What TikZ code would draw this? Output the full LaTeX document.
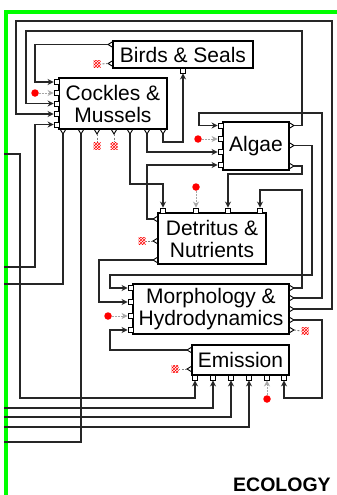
\documentclass[tikz,border=0pt]{standalone}
\usepackage{fontspec}
\setmainfont{Liberation Sans}
\usetikzlibrary{arrows.meta,patterns}
\definecolor{gbord}{RGB}{0,255,0}
\begin{document}
\begin{tikzpicture}[x=1pt,y=-1pt,
  blk/.style={draw=black, fill=white, line width=1.1pt, inner sep=0pt, font=\fontsize{21}{22}\selectfont, align=center},
  wire/.style={draw=black!85, line width=1.05pt},
  arr/.style={wire, -{Stealth[length=6pt,width=6pt]}},
  garr/.style={draw=gray!70, line width=1pt, dash pattern=on 2pt off 1pt, -{Stealth[length=6pt,width=6pt]}},
  inport/.style={draw=black, fill=white, line width=0.9pt, minimum size=5pt, inner sep=0pt},
  port/.style={draw=black, line width=0.9pt},
  term/.style={draw=none, fill=red!30, pattern=crosshatch, pattern color=red, minimum size=7pt, inner sep=0pt},
  rdot/.style={circle, fill=red, minimum size=7.5pt, inner sep=0pt},
  dsh/.style={draw=gray, line width=0.9pt, dash pattern=on 2pt off 1.5pt}]
\useasboundingbox (0,0) rectangle (337,495);
\fill[white] (0,0) rectangle (337,495);
% green frame
\fill[gbord] (4,10) rectangle (8,495);
\fill[gbord] (4,10) rectangle (337,14);

% ---------- blocks ----------
\node[blk, minimum width=140pt, minimum height=27pt] (birds) at (183,54.5) {Birds \& Seals};
\node[blk, minimum width=108pt, minimum height=51pt] (cock) at (113,103.5) {Cockles \&\\Mussels};
\node[blk, minimum width=66pt, minimum height=48pt] (algae) at (256,146) {Algae};
\node[blk, minimum width=108pt, minimum height=51pt] (detr) at (212,238.5) {Detritus \&\\Nutrients};
\node[blk, minimum width=156pt, minimum height=50pt] (morph) at (211,309) {Morphology \&\\Hydrodynamics};
\node[blk, minimum width=97pt, minimum height=30pt] (emis) at (240.5,360) {Emission};

% ---------- ports ----------
% Birds: outputs left, input bottom
\draw[port] (113,41.5)--(108,44.5)--(113,47.5);
\draw[port] (113,60.5)--(108,63.5)--(113,66.5);
\coordinate (bo1) at (108,44.5);
\coordinate (bo2) at (108,63.5);
\node[inport] (bi1) at (183,70.5) {};
% Cockles: inputs left, outputs bottom
\node[inport] (ci1) at (56.5,82) {};
\node[inport] (ci2) at (56.5,93) {};
\node[inport] (ci3) at (56.5,103.5) {};
\node[inport] (ci4) at (56.5,114) {};
\node[inport] (ci5) at (56.5,124.5) {};
\foreach \x/\n in {63/1,81/2,97/3,114/4,130/5,147/6,163/7}{
  \draw[port] (\x-3,129)--(\x,134)--(\x+3,129);
  \coordinate (co\n) at (\x,134);}
% Algae
\node[inport] (ai1) at (220.5,125.5) {};
\node[inport] (ai2) at (220.5,139) {};
\node[inport] (ai3) at (220.5,152) {};
\node[inport] (ai4) at (220.5,165) {};
\foreach \y/\n in {125.5/1,145.5/2,166/3}{
  \draw[port] (289,\y-3)--(294,\y)--(289,\y+3);
  \coordinate (ao\n) at (294,\y);}
% Detritus: inputs top, outputs left
\node[inport] (di1) at (163,210.5) {};
\node[inport] (di2) at (196,210.5) {};
\node[inport] (di3) at (228,210.5) {};
\node[inport] (di4) at (260,210.5) {};
\foreach \y/\n in {219/1,241/2,260/3}{
  \draw[port] (158,\y-3)--(153,\y)--(158,\y+3);
  \coordinate (do\n) at (153,\y);}
% Morphology
\node[inport] (mi1) at (130.5,288) {};
\node[inport] (mi2) at (130.5,302) {};
\node[inport] (mi3) at (130.5,316) {};
\node[inport] (mi4) at (130.5,330) {};
\foreach \y/\n in {288/1,298/2,309/3,320/4,330/5}{
  \draw[port] (289,\y-3)--(294,\y)--(289,\y+3);
  \coordinate (mo\n) at (294,\y);}
% Emission: outputs left, inputs bottom
\foreach \y/\n in {350/1,369/2}{
  \draw[port] (192,\y-3)--(187,\y)--(192,\y+3);
  \coordinate (eo\n) at (187,\y);}
\foreach \x/\n in {195/1,213/2,231/3,249/4,267/5,284/6}{
  \node[inport] (ei\n) at (\x,377.5) {};}

% ---------- terminators and sources ----------
\node[term] (t1) at (97,64) {};
\node[term] (t2) at (97,146) {};
\node[term] (t3) at (114,146) {};
\node[term] (t4) at (142,241) {};
\node[term] (t5) at (175,369) {};
\node[term] (t6) at (305,331) {};
\draw[dsh] (bo2) -- (t1.east);
\draw[dsh] (co3) -- (t2.north);
\draw[dsh] (co4) -- (t3.north);
\draw[dsh] (do2) -- (t4.east);
\draw[dsh] (eo2) -- (t5.east);
\draw[dsh] (mo5) -- (t6.west);

\node[rdot] (r1) at (35,93) {};
\node[rdot] (r2) at (198,139) {};
\node[rdot] (r3) at (196,187) {};
\node[rdot] (r4) at (108,316) {};
\node[rdot] (r5) at (267,399) {};
\draw[garr] (r1.east) -- (ci2.west);
\draw[garr] (r2.east) -- (ai2.west);
\draw[garr] (r3.south) -- (di2.north);
\draw[garr] (r4.east) -- (mi3.west);
\draw[garr] (r5.north) -- (ei5.south);

% ---------- external ends ----------
\coordinate (x1) at (4,154);
\coordinate (x2) at (4,267);
\coordinate (x3) at (4,284);
\coordinate (x4) at (4,408);
\coordinate (x5) at (4,417);
\coordinate (x6) at (4,427);
\coordinate (x7) at (4,442);

% ---------- connectors ----------
\draw[arr] (bo1) -- (35,44.5) -- (35,82) -- (ci1.west);
\draw[arr] (ao1) -- (302,125.5) -- (302,31) -- (26,31) -- (26,103.5) -- (ci3.west);
\draw[arr] (mo3) -- (332,309) -- (332,21) -- (16,21) -- (16,114) -- (ci4.west);
\draw[arr] (x2) -- (35,267) -- (35,124.5) -- (ci5.west);
\draw[wire] (co1) -- (63,284) -- (x3);
\draw[wire] (co2) -- (81,442) -- (x7);
\draw[arr] (co5) -- (130,184) -- (163,184) -- (di1.north);
\draw[arr] (co6) -- (147,152) -- (ai3.west);
\draw[arr] (co7) -- (163,142) -- (183,142) -- (bi1.south);
\draw[arr] (do1) -- (147,219) -- (147,165) -- (ai4.west);
\draw[arr] (mo2) -- (322,298) -- (322,113) -- (199,113) -- (199,125.5) -- (ai1.west);
\draw[arr] (ao2) -- (312,145.5) -- (312,275) -- (110,275) -- (110,288) -- (mi1.west);
\draw[arr] (ao3) -- (302,166) -- (302,174) -- (228,174) -- (di3.north);
\draw[arr] (mo1) -- (302,288) -- (302,190) -- (260,190) -- (di4.north);
\draw[arr] (do3) -- (99,260) -- (99,302) -- (mi2.west);
\draw[arr] (eo1) -- (110,350) -- (110,330) -- (mi4.west);
\draw[arr] (mo4) -- (322,320) -- (322,398) -- (284,398) -- (ei6.south);
\draw[arr] (x1) -- (20,154) -- (20,398) -- (195,398) -- (ei1.south);
\draw[arr] (x4) -- (213,408) -- (ei2.south);
\draw[arr] (x5) -- (231,417) -- (ei3.south);
\draw[arr] (x6) -- (249,427) -- (ei4.south);

\node[font=\bfseries\fontsize{19.5}{20}\selectfont, anchor=base west, inner sep=0pt] (eco) at (233,491) {ECOLOGY};
\end{tikzpicture}
\end{document}
